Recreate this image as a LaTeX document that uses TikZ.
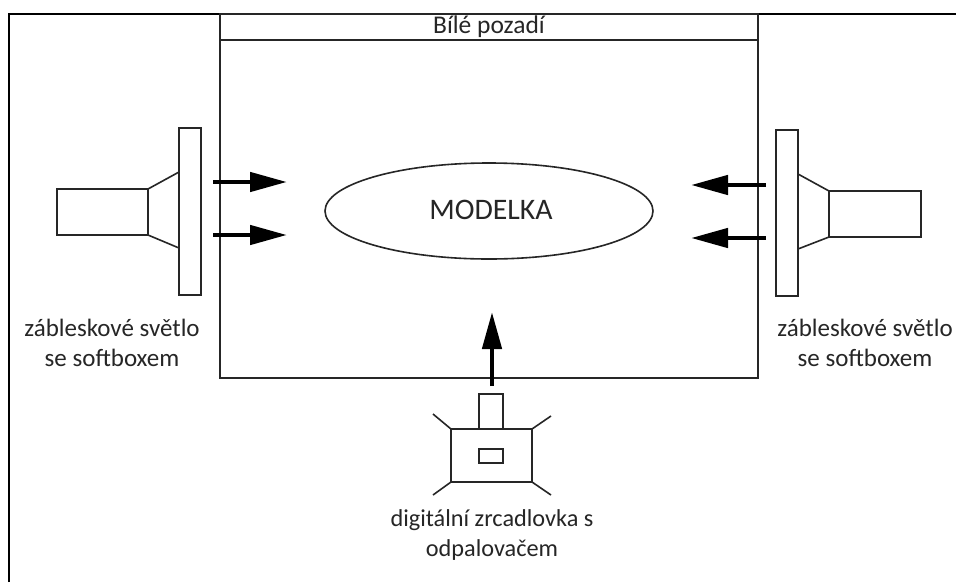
\documentclass[tikz,border=0pt]{standalone}
\usepackage{fontspec}
\setmainfont{Carlito}
\usetikzlibrary{arrows.meta,shapes.geometric}
\tikzset{
  line/.style={draw=black!85,line width=1.6pt},
  frameline/.style={draw=black,line width=1.7pt},
  flash/.style={-{Triangle[length=37pt,width=19pt]},line width=4.6pt,black},
  lbl/.style={align=center,font=\fontsize{25}{30}\selectfont,text=black!85,inner sep=0pt},
}
\begin{document}
\begin{tikzpicture}[x=1pt,y=-1pt]
\useasboundingbox (0,0) rectangle (956,582);
\fill[white] (0,0) rectangle (956,582);
% outer frame
\draw[frameline] (9,582) -- (9,14) -- (956,14);
% studio
\draw[line] (220,14) rectangle (758,378);
\draw[line] (220,40) -- (758,40);
\node[lbl,font=\fontsize{25.5}{30}\selectfont] (bg) at (489,27) {Bílé pozadí};
\node[ellipse,line,minimum width=328pt,minimum height=96pt,inner sep=0pt] (model) at (489,211) {};
\node[font=\fontsize{29.8}{34}\selectfont,text=black!85,inner sep=0pt] (modeltext) at (491,210) {MODELKA};
% left light
\draw[line] (179,128) rectangle (201,295);
\draw[line] (57,189) rectangle (148,235);
\draw[line] (179,172) -- (148,189) (179,248) -- (148,235);
\node[lbl] (ll) at (112,343) {zábleskové světlo\\se softboxem};
% right light
\draw[line] (776,130) rectangle (798,296);
\draw[line] (829,191) rectangle (921,237);
\draw[line] (798,174) -- (829,191) (798,249) -- (829,237);
\node[lbl] (rl) at (865,343) {zábleskové světlo\\se softboxem};
% camera
\draw[line] (451,429) rectangle (532,482);
\draw[line] (479,394) rectangle (503,429);
\draw[line] (479,449) rectangle (503,463);
\draw[line] (451,429) -- (433,414) (532,429) -- (551,416) (451,482) -- (433,495) (532,482) -- (551,495);
\node[lbl,font=\fontsize{24.3}{30}\selectfont] (cam) at (492,535) {digitální zrcadlovka s\\odpalovačem};
% arrows
\coordinate (a1s) at (213,182); \coordinate (a1e) at (287,182);
\coordinate (a2s) at (213,235); \coordinate (a2e) at (287,235);
\coordinate (a3s) at (766,185); \coordinate (a3e) at (691,185);
\coordinate (a4s) at (766,238); \coordinate (a4e) at (691,238);
\coordinate (a5s) at (492,386); \coordinate (a5e) at (492,312);
\draw[flash] (a1s) -- (a1e);
\draw[flash] (a2s) -- (a2e);
\draw[flash] (a3s) -- (a3e);
\draw[flash] (a4s) -- (a4e);
\draw[flash] (a5s) -- (a5e);
\end{tikzpicture}
\end{document}
